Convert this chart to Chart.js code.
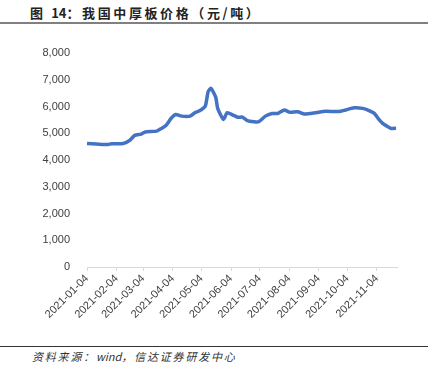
<!DOCTYPE html>
<html>
<head>
<meta charset="utf-8">
<script src="https://cdn.jsdelivr.net/npm/chart.js@4"></script>
<style>
    body { margin: 0; width: 437px; height: 368px; background: #fff; position: relative; overflow: hidden; font-family: "Noto Sans CJK SC", sans-serif; }
    .title { position: absolute; left: 30px; top: 3px; font-size: 13px; font-weight: bold; color: #222; letter-spacing: 2.6px; }
    .rule-top { position: absolute; left: 0; top: 22px; width: 428px; height: 2px; background: #808080; }
    .rule-bottom { position: absolute; left: 0; top: 346px; width: 428px; height: 1px; background: #333; }
    .source { position: absolute; left: 32px; top: 348px; font-size: 11px; font-style: italic; color: #333; letter-spacing: 1.8px; }
    .latin { letter-spacing: 0; }
    .wrap { position: absolute; left: 0; top: 0; width: 437px; height: 340px; }
</style>
</head>
<body>
<div class="title">图 <span class="latin">14</span>：我国中厚板价格（元/吨）</div>
<div class="rule-top"></div>
<div class="wrap"><canvas id="priceChart"></canvas></div>
<div class="rule-bottom"></div>
<div class="source">资料来源：<span class="latin">wind</span>，信达证券研发中心</div>

<script>
    // data
    const dates = [
        '2021-01-04', '2021-01-14', '2021-01-25', '2021-01-30', '2021-02-11', '2021-02-18',
        '2021-02-23', '2021-03-02', '2021-03-06', '2021-03-18', '2021-03-23', '2021-03-28',
        '2021-04-02', '2021-04-07', '2021-04-13', '2021-04-22', '2021-04-27', '2021-05-02',
        '2021-05-08', '2021-05-11', '2021-05-14', '2021-05-19', '2021-05-21', '2021-05-27',
        '2021-05-31', '2021-06-06', '2021-06-11', '2021-06-16', '2021-06-21', '2021-06-28',
        '2021-07-03', '2021-07-10', '2021-07-17', '2021-07-23', '2021-07-30', '2021-08-04',
        '2021-08-13', '2021-08-20', '2021-09-01', '2021-09-11', '2021-09-25', '2021-10-02',
        '2021-10-11', '2021-10-20', '2021-10-25', '2021-11-01', '2021-11-06', '2021-11-10',
        '2021-11-15', '2021-11-19', '2021-11-24'
    ];
    const prices = [
        4620, 4600, 4575, 4610, 4620, 4740,
        4920, 4970, 5050, 5080, 5180, 5300,
        5550, 5700, 5640, 5640, 5770, 5840,
        6020, 6550, 6680, 6340, 5930, 5520,
        5770, 5680, 5600, 5600, 5470, 5430,
        5430, 5640, 5740, 5740, 5870, 5790,
        5800, 5720, 5770, 5820, 5810, 5870,
        5950, 5930, 5870, 5750, 5520, 5370,
        5250, 5180, 5190
    ];
    const tickDates = [
        '2021-01-04', '2021-02-04', '2021-03-04', '2021-04-04', '2021-05-04', '2021-06-04',
        '2021-07-04', '2021-08-04', '2021-09-04', '2021-10-04', '2021-11-04'
    ];
    const yTicks = [0, 1000, 2000, 3000, 4000, 5000, 6000, 7000, 8000];

    // days since first date, used for x positions
    const day0 = Date.parse(dates[0]);
    const toDay = s => (Date.parse(s) - day0) / 86400000;

    const ctx = document.getElementById('priceChart').getContext('2d');
    const priceChart = new Chart(ctx, {
        type: 'line',
        data: {
            datasets: [{
                label: '中厚板价格',
                data: dates.map((d, i) => ({ x: toDay(d), y: prices[i] })),
                borderColor: '#4472C4',
                borderWidth: 3.5,
                pointRadius: 0,
                tension: 0.2,
                fill: false
            }]
        },
        options: {
            responsive: true,
            maintainAspectRatio: false,
            animation: false,
            layout: { padding: { top: 53, right: 40, left: 0, bottom: 0 } },
            plugins: {
                legend: { display: false },
                tooltip: { enabled: false }
            },
            scales: {
                x: {
                    type: 'linear',
                    min: 0,
                    max: 325,
                    afterBuildTicks: function(scale) {
                        scale.ticks = tickDates.map(d => ({ value: toDay(d) }));
                    },
                    afterFit: function(scale) { scale.height = 73; },
                    grid: { drawOnChartArea: false, drawTicks: true, tickLength: 4, color: '#d9d9d9' },
                    border: { display: true, color: '#d9d9d9', width: 1 },
                    ticks: {
                        autoSkip: false,
                        minRotation: 45,
                        maxRotation: 45,
                        padding: 1,
                        color: '#404040',
                        font: { family: 'Liberation Sans', size: 11 },
                        callback: function(value) {
                            const i = tickDates.findIndex(d => toDay(d) === value);
                            return i >= 0 ? tickDates[i] : '';
                        }
                    }
                },
                y: {
                    min: 0,
                    max: 8000,
                    afterBuildTicks: function(scale) {
                        scale.ticks = yTicks.map(v => ({ value: v }));
                    },
                    afterFit: function(scale) { scale.width = 87; },
                    grid: { display: false, drawTicks: false },
                    border: { display: false },
                    ticks: {
                        padding: 17,
                        color: '#404040',
                        font: { family: 'Liberation Sans', size: 11 },
                        callback: v => v.toLocaleString('en-US')
                    }
                }
            }
        }
    });
</script>
</body>
</html>
